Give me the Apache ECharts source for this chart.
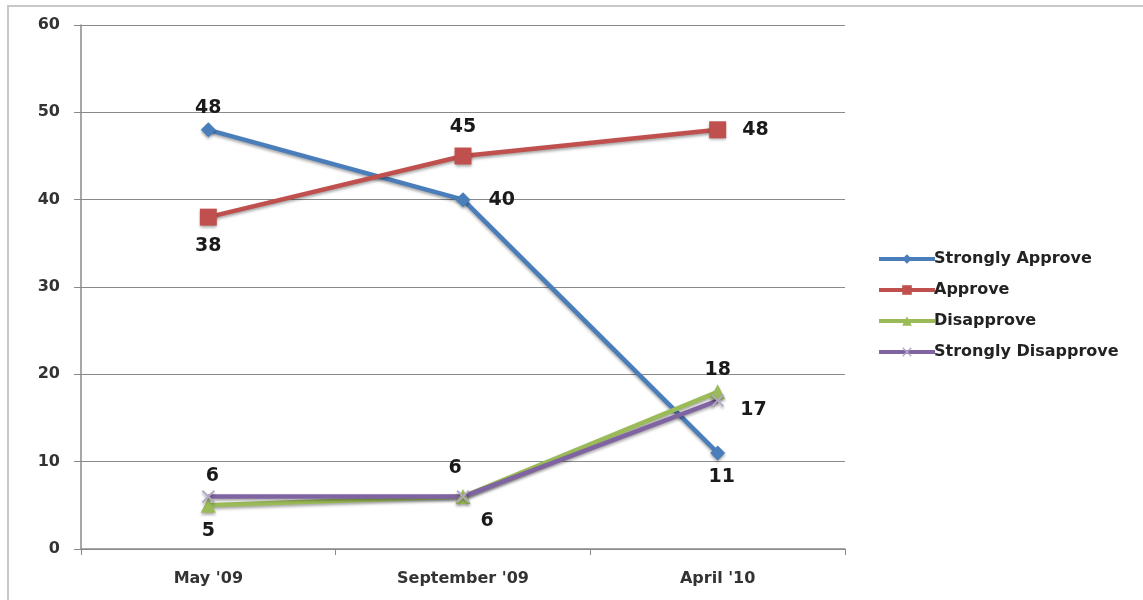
<!DOCTYPE html>
<html>
<head>
<meta charset="utf-8">
<script src="https://cdn.jsdelivr.net/npm/echarts@6/dist/echarts.min.js"></script>
<style>
  html, body { margin: 0; padding: 0; background: #fff; }
  #chart { width: 1143px; height: 600px; }
</style>
</head>
<body>
<div id="chart"></div>
<script>
// Survey periods and approval shares (%)
const categories = ["May '09", "September '09", "April '10"];
const stronglyApprove = [48, 40, 11];
const approve = [38, 45, 48];
const disapprove = [5, 6, 18];
const stronglyDisapprove = [6, 6, 17];
const yTicks = [0, 10, 20, 30, 40, 50, 60];

const FONT = 'DejaVu Sans';
const labelBase = { show: true, color: '#1a1a1a', fontFamily: FONT, fontWeight: 'bold', fontSize: 19 };

// Attach a per-point label placement to each value
function withLabels(values, placements) {
  return values.map((v, i) => ({
    value: v,
    label: Object.assign({}, labelBase, placements[i])
  }));
}

const shadow = { shadowColor: 'rgba(0,0,0,0.35)', shadowBlur: 3, shadowOffsetY: 2 };
const crossPath = 'path://M0,1 L1,0 L5,4 L9,0 L10,1 L6,5 L10,9 L9,10 L5,6 L1,10 L0,9 L4,5 Z';

function lineSeries(name, color, symbol, symbolSize, values, placements, symbolColor) {
  return {
    name: name,
    type: 'line',
    data: withLabels(values, placements),
    symbol: symbol,
    symbolSize: symbolSize,
    lineStyle: Object.assign({ color: color, width: 4.5 }, shadow),
    itemStyle: Object.assign({ color: symbolColor || color }, shadow),
    emphasis: { disabled: true },
    z: 3
  };
}

const chart = echarts.init(document.getElementById('chart'));
chart.setOption({
  animation: false,
  backgroundColor: '#fff',
  graphic: [{
    type: 'rect',
    shape: { x: 8, y: 6, width: 1160, height: 620 },
    style: { fill: 'none', stroke: '#c8c8c8', lineWidth: 2 },
    silent: true
  }],
  grid: { left: 81, right: 298, top: 25, bottom: 51 },
  legend: {
    orient: 'vertical',
    left: 872,
    top: 246,
    itemWidth: 56,
    itemHeight: 12,
    itemGap: 15,
    lineStyle: { width: 4 },
    textStyle: { fontFamily: FONT, fontSize: 16, fontWeight: 'bold', color: '#222', padding: [0, 0, 0, -6] },
    data: ['Strongly Approve', 'Approve', 'Disapprove', 'Strongly Disapprove']
  },
  xAxis: {
    type: 'category',
    data: categories,
    boundaryGap: true,
    axisLine: { lineStyle: { color: '#8a8a8a', width: 1.5 } },
    axisTick: { show: true, length: 6, lineStyle: { color: '#8a8a8a' } },
    axisLabel: { fontFamily: FONT, fontSize: 16, fontWeight: 'bold', color: '#333', margin: 22 }
  },
  yAxis: {
    type: 'value',
    min: yTicks[0],
    max: yTicks[yTicks.length - 1],
    interval: yTicks[1] - yTicks[0],
    axisLine: { show: true, lineStyle: { color: '#8a8a8a', width: 1.5 } },
    axisTick: { show: true, length: 7, lineStyle: { color: '#8a8a8a' } },
    splitLine: { lineStyle: { color: '#8a8a8a', width: 1 } },
    axisLabel: { fontFamily: FONT, fontSize: 16, fontWeight: 'bold', color: '#333', margin: 21 }
  },
  series: [
    lineSeries('Strongly Approve', '#4a7ebb', 'diamond', 15, stronglyApprove, [
      { position: 'top', distance: 5 },
      { position: 'right', distance: 18 },
      { position: 'bottom', distance: 7, offset: [4, 0] }
    ]),
    lineSeries('Approve', '#c0504d', 'rect', 17, approve, [
      { position: 'bottom', distance: 11 },
      { position: 'top', distance: 11 },
      { position: 'right', distance: 16 }
    ]),
    lineSeries('Disapprove', '#9bbb59', 'triangle', 15, disapprove, [
      { position: 'bottom', distance: 9 },
      { position: 'bottom', distance: 7, offset: [24, 0] },
      { position: 'top', distance: 5 }
    ]),
    lineSeries('Strongly Disapprove', '#8064a2', crossPath, 13, stronglyDisapprove, [
      { position: 'top', distance: 5, offset: [4, 0] },
      { position: 'top', distance: 13, offset: [-8, 0] },
      { position: 'right', distance: 16, offset: [0, 10] }
    ], '#b3a9c4')
  ]
});
</script>
</body>
</html>
